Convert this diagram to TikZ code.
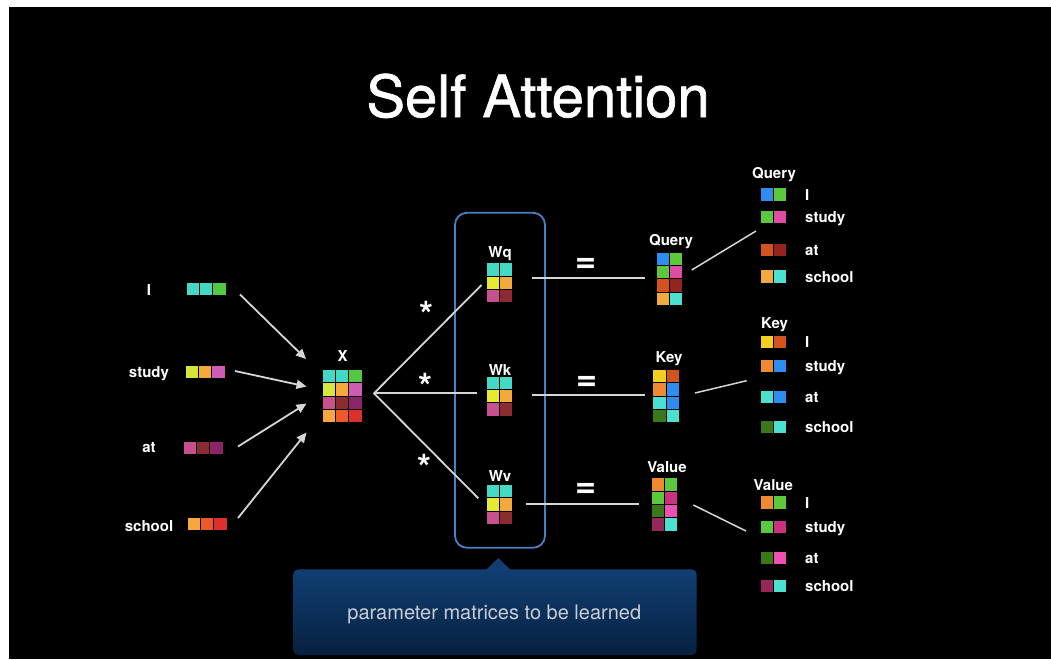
\documentclass[tikz,border=0pt]{standalone}
\usepackage{fontspec}
\setmainfont{TeX Gyre Heros}
\newfontfamily\titlefont[FakeBold=1.2]{TeX Gyre Heros}
\usetikzlibrary{arrows.meta}

% palette
\definecolor{tealc}{HTML}{44D9C4}
\definecolor{grnc}{HTML}{52C844}
\definecolor{ylgc}{HTML}{D6E63A}
\definecolor{orgc}{HTML}{F4A93C}
\definecolor{pnkc}{HTML}{CF5CB4}
\definecolor{rosec}{HTML}{C9508E}
\definecolor{drdc}{HTML}{8A2C32}
\definecolor{purc}{HTML}{8B2468}
\definecolor{ambc}{HTML}{F6A83E}
\definecolor{orrc}{HTML}{EC5A2A}
\definecolor{redc}{HTML}{DC302C}
\definecolor{yelc}{HTML}{E6EA34}
\definecolor{bluc}{HTML}{2E8EF0}
\definecolor{lgrc}{HTML}{5CC83C}
\definecolor{magc}{HTML}{E04CA4}
\definecolor{rstc}{HTML}{D4521E}
\definecolor{mrnc}{HTML}{92261E}
\definecolor{goldc}{HTML}{F2D022}
\definecolor{carc}{HTML}{F08A30}
\definecolor{aquac}{HTML}{4CE0D0}
\definecolor{dgrc}{HTML}{3A781A}
\definecolor{crmc}{HTML}{CC3080}
\definecolor{hpkc}{HTML}{F050B4}
\definecolor{plmc}{HTML}{962858}
\definecolor{lineg}{HTML}{D6D6D6}
\definecolor{frameblue}{HTML}{4A7FC4}
\definecolor{notetop}{HTML}{113F73}
\definecolor{notebot}{HTML}{07203F}
\definecolor{notetext}{HTML}{C9CED6}

\tikzset{
  lbl/.style={text=white, font=\fontsize{15}{18}\selectfont\bfseries, inner sep=0pt},
  ttl/.style={text=white, font=\fontsize{58}{66}\selectfont\titlefont, inner sep=0pt},
  opsym/.style={text=white, font=\fontsize{36}{40}\selectfont\bfseries, inner sep=0pt},
  gridbox/.style={inner sep=0pt, draw=none, anchor=north west},
  arrowline/.style={draw=lineg, line width=1.8pt, -{Triangle[length=10pt,width=9pt]}},
  plainline/.style={draw=lineg, line width=1.8pt},
}

% #1 name, #2 left, #3 top, #4 columns, #5 rows, #6 colours row by row
\newcommand\cellgrid[6]{%
  \node[gridbox, minimum width=#4*13.2pt, minimum height=#5*13.3pt] (#1) at (#2,#3) {};
  \foreach \cc [count=\i from 0] in {#6} {
    \pgfmathtruncatemacro\rr{div(\i,#4)}
    \pgfmathtruncatemacro\kk{mod(\i,#4)}
    \fill[\cc] (#2+\kk*13.2, #3+\rr*13.3) rectangle ++(12.2,12.3);
  }%
}

\begin{document}
\begin{tikzpicture}[x=1pt, y=-1pt]
\useasboundingbox (0,0) rectangle (1051,659);
\fill[white] (0,0) rectangle (1051,659);
\fill[black] (9,7) rectangle (1051,659);

% title
\node[ttl, anchor=base] (title) at (538,117) {Self Attention};

% input words and their embeddings
\node[lbl, anchor=base] (wI) at (149,295.5) {I};
\node[lbl, anchor=base] (wStudy) at (149,377.5) {study};
\node[lbl, anchor=base] (wAt) at (149,452) {at};
\node[lbl, anchor=base] (wSchool) at (149,531) {school};
\cellgrid{vI}{187}{283}{3}{1}{tealc,tealc,grnc}
\cellgrid{vStudy}{186}{365.5}{3}{1}{ylgc,orgc,pnkc}
\cellgrid{vAt}{184}{442}{3}{1}{rosec,drdc,purc}
\cellgrid{vSchool}{188}{518}{3}{1}{ambc,orrc,redc}

% stacked input matrix X
\node[lbl, anchor=base] (xLbl) at (342.7,361) {X};
\cellgrid{X}{323}{370}{3}{4}{tealc,tealc,grnc, ylgc,orgc,pnkc, rosec,drdc,purc, ambc,orrc,redc}

% arrows into X
\coordinate (iS) at (240,294.5);   \coordinate (iT) at (306,359);
\coordinate (sS) at (235,371);     \coordinate (sT) at (306.5,386.5);
\coordinate (tS) at (238,446.5);   \coordinate (tT) at (306.5,403.5);
\coordinate (hS) at (238,518);     \coordinate (hT) at (306.5,432.5);
\draw[arrowline] (iS) -- (iT);
\draw[arrowline] (sS) -- (sT);
\draw[arrowline] (tS) -- (tT);
\draw[arrowline] (hS) -- (hT);

% frame around the learned weights
\node[draw=frameblue, line width=1.8pt, rounded corners=12pt, inner sep=0pt,
      minimum width=90pt, minimum height=335pt] (wFrame) at (500,380.3) {};

% fan from X to the weights
\coordinate (fan) at (374,393.3);
\coordinate (fq) at (481.5,285);
\coordinate (fk) at (476.7,393.3);
\coordinate (fv) at (478.3,498.3);
\draw[plainline] (fq) -- (fan) -- (fv);
\draw[plainline] (fan) -- (fk);
\node[opsym] (mulQ) at (426,314) {*};
\node[opsym] (mulK) at (425,386) {*};
\node[opsym] (mulV) at (424,467) {*};

% weight matrices
\node[lbl, anchor=base] (wqLbl) at (500,257.7) {Wq};
\node[lbl, anchor=base] (wkLbl) at (500,375) {Wk};
\node[lbl, anchor=base] (wvLbl) at (500,481.7) {Wv};
\cellgrid{Wq}{486.7}{263.3}{2}{3}{tealc,tealc, yelc,orgc, rosec,drdc}
\cellgrid{Wk}{486.7}{376.7}{2}{3}{tealc,tealc, yelc,orgc, rosec,drdc}
\cellgrid{Wv}{486.7}{485}{2}{3}{tealc,tealc, yelc,orgc, rosec,drdc}

% products
\coordinate (qS) at (531.5,278.3); \coordinate (qE) at (645,278.3);
\coordinate (kS) at (531.5,395);   \coordinate (kE) at (645,395);
\coordinate (uS) at (526,504);     \coordinate (uE) at (638.5,504);
\draw[plainline] (qS) -- (qE);
\draw[plainline] (kS) -- (kE);
\draw[plainline] (uS) -- (uE);
\node[opsym] (eqQ) at (586,265) {=};
\node[opsym] (eqK) at (587,383) {=};
\node[opsym] (eqV) at (586,490) {=};

% resulting Q, K, V matrices
\node[lbl, anchor=base] (qLbl) at (671,245.5) {Query};
\node[lbl, anchor=base] (kLbl) at (669,362) {Key};
\node[lbl, anchor=base] (vLbl) at (667,472) {Value};
\cellgrid{Q}{656.7}{252.7}{2}{4}{bluc,lgrc, lgrc,magc, rstc,mrnc, orgc,aquac}
\cellgrid{K}{653.3}{370}{2}{4}{goldc,rstc, carc,bluc, aquac,bluc, dgrc,aquac}
\cellgrid{V}{651.7}{478.3}{2}{4}{carc,lgrc, lgrc,crmc, dgrc,hpkc, plmc,aquac}

% links to the per-word breakdown
\coordinate (qa) at (691.7,270); \coordinate (qb) at (756,231);
\coordinate (ka) at (695,393);   \coordinate (kb) at (746.7,380.7);
\coordinate (va) at (693.3,505); \coordinate (vb) at (746,531);
\draw[plainline, line width=1.5pt] (qa) -- (qb);
\draw[plainline, line width=1.5pt] (ka) -- (kb);
\draw[plainline, line width=1.5pt] (va) -- (vb);

% per-word query vectors
\node[lbl, anchor=base] (qT) at (774,178.5) {Query};
\cellgrid{q1}{760.7}{188.3}{2}{1}{bluc,lgrc}
\cellgrid{q2}{760.7}{211}{2}{1}{lgrc,magc}
\cellgrid{q3}{760.7}{243.5}{2}{1}{rstc,mrnc}
\cellgrid{q4}{760.7}{270.2}{2}{1}{orgc,aquac}
\node[lbl, anchor=base west] (q1w) at (805,200) {I};
\node[lbl, anchor=base west] (q2w) at (805,222.5) {study};
\node[lbl, anchor=base west] (q3w) at (805,255.2) {at};
\node[lbl, anchor=base west] (q4w) at (805,282) {school};

% per-word key vectors
\node[lbl, anchor=base] (kT) at (774.5,328.5) {Key};
\cellgrid{k1}{760.7}{336}{2}{1}{goldc,rstc}
\cellgrid{k2}{760.7}{359.5}{2}{1}{carc,bluc}
\cellgrid{k3}{760.7}{390.8}{2}{1}{aquac,bluc}
\cellgrid{k4}{760.7}{420.5}{2}{1}{dgrc,aquac}
\node[lbl, anchor=base west] (k1w) at (805,347.7) {I};
\node[lbl, anchor=base west] (k2w) at (805,371.2) {study};
\node[lbl, anchor=base west] (k3w) at (805,402.5) {at};
\node[lbl, anchor=base west] (k4w) at (805,432.2) {school};

% per-word value vectors
\node[lbl, anchor=base] (vT) at (773.3,490) {Value};
\cellgrid{v1}{760.7}{496.3}{2}{1}{carc,lgrc}
\cellgrid{v2}{760.7}{520.8}{2}{1}{lgrc,crmc}
\cellgrid{v3}{760.7}{551.6}{2}{1}{dgrc,hpkc}
\cellgrid{v4}{760.7}{580.1}{2}{1}{plmc,aquac}
\node[lbl, anchor=base west] (v1w) at (805,508) {I};
\node[lbl, anchor=base west] (v2w) at (805,532.5) {study};
\node[lbl, anchor=base west] (v3w) at (805,563.3) {at};
\node[lbl, anchor=base west] (v4w) at (805,591.8) {school};

% callout
\fill[notetop] (486,570) -- (498.3,558) -- (510.6,570) -- cycle;
\node[inner sep=0pt, rounded corners=5pt, top color=notetop, bottom color=notebot,
      minimum width=403.4pt, minimum height=85.7pt] (noteBox) at (495,612.2) {};
\node[text=notetext, font=\fontsize{20}{24}\selectfont, inner sep=0pt, anchor=base]
      (noteText) at (494.3,619.3) {parameter matrices to be learned};
\end{tikzpicture}
\end{document}
